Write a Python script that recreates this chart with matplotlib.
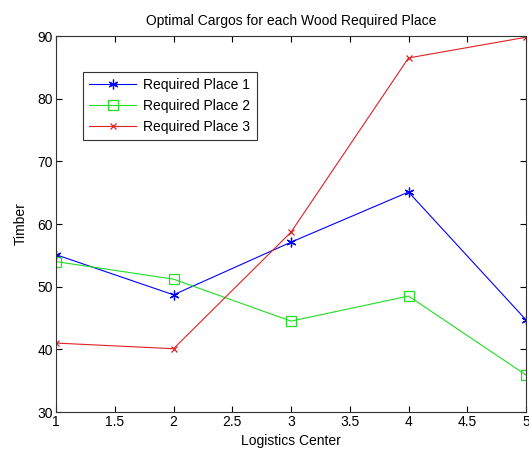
import matplotlib
matplotlib.use("Agg")
import matplotlib.pyplot as plt

centers = [1, 2, 3, 4, 5]
place1 = [55.1, 48.7, 57.1, 65.1, 44.7]
place2 = [54.0, 51.2, 44.5, 48.5, 35.9]
place3 = [41.0, 40.1, 58.7, 86.5, 89.8]
labels = ["Required Place 1", "Required Place 2", "Required Place 3"]
xticks = [1, 1.5, 2, 2.5, 3, 3.5, 4, 4.5, 5]
yticks = [30, 40, 50, 60, 70, 80, 90]

plt.rcParams['font.family'] = ['Liberation Sans', 'DejaVu Sans']
fig = plt.figure(figsize=(5.29, 4.5), dpi=100)
ax = fig.add_axes([56/529, 38/450, 470/529, 376/450])

ax.plot(centers, place1, color='#0000ff', marker=(6, 2, 0), markersize=7, markeredgewidth=0.9, lw=0.8, label=labels[0])
ax.plot(centers, place2, color='#22dd22', marker='s', markersize=6.5, markerfacecolor='none', markeredgewidth=0.9, lw=0.8, label=labels[1])
ax.plot(centers, place3, color='#dd2222', marker='x', markersize=5, markeredgewidth=0.9, lw=0.8, label=labels[2])

ax.set_xlim(1, 5)
ax.set_ylim(30, 90)
ax.set_xticks(xticks)
ax.set_xticklabels([f"{t:g}" for t in xticks])
ax.set_yticks(yticks)
ax.tick_params(direction='in', top=True, right=True, labelsize=10, length=4, width=0.8, pad=2)
for s in ax.spines.values():
    s.set_linewidth(0.8)
    s.set_color('#333333')

ax.set_title("Optimal Cargos for each Wood Required Place", fontsize=10, pad=8)
ax.set_xlabel("Logistics Center", fontsize=10, labelpad=4)
ax.set_ylabel("Timber", fontsize=10, labelpad=7)

leg = ax.legend(loc='upper left', bbox_to_anchor=(0.057, 0.904), borderaxespad=0,
                fancybox=False, edgecolor='#333333', fontsize=10, framealpha=1,
                handlelength=3.4, borderpad=0.45, labelspacing=0.5, handletextpad=0.5)
leg.get_frame().set_linewidth(0.8)

fig.savefig("out.png", dpi=100)
